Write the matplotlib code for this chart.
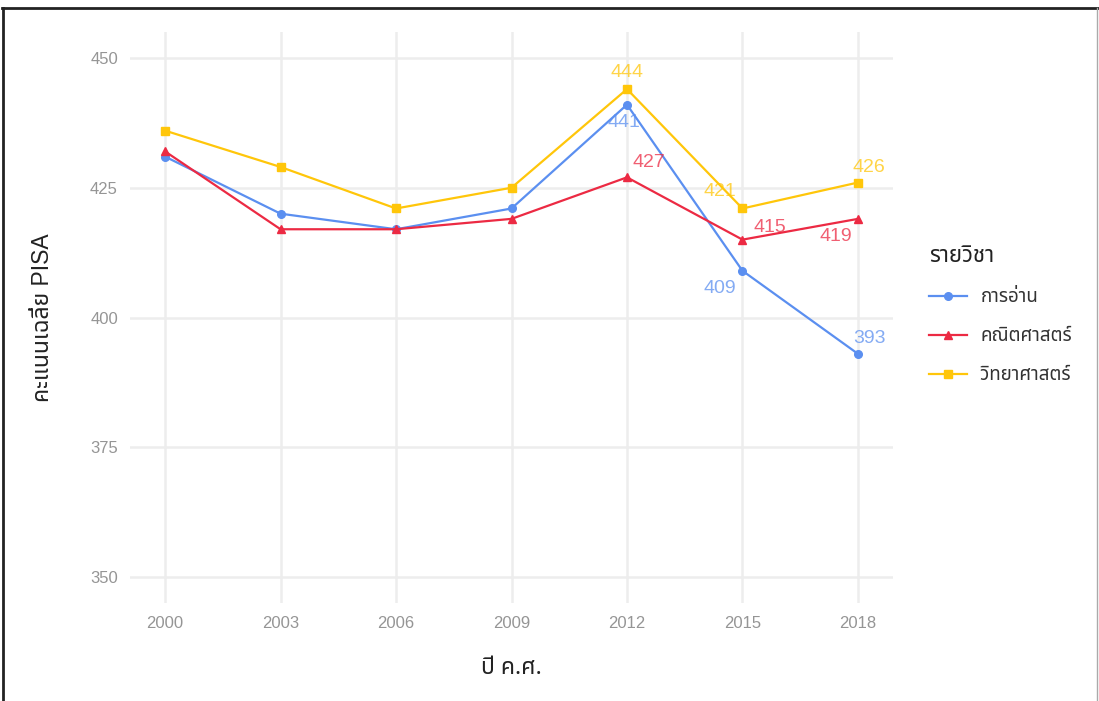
import matplotlib
matplotlib.use('Agg')  # no display
import matplotlib.pyplot as plt
from matplotlib.lines import Line2D

# ข้อมูลคะแนน PISA ของไทย
years = [2000, 2003, 2006, 2009, 2012, 2015, 2018]
reading = [431, 420, 417, 421, 441, 409, 393]
math = [432, 417, 417, 419, 427, 415, 419]
science = [436, 429, 421, 425, 444, 421, 426]
subjects = ['การอ่าน', 'คณิตศาสตร์', 'วิทยาศาสตร์']
label_years = [2012, 2015, 2018]
y_ticks = [350, 375, 400, 425, 450]

# สีและ marker ของแต่ละวิชา
colors = ['#5B8FF0', '#EC2A43', '#FFC60A']
markers = ['o', '^', 's']

# ระยะเลื่อนของป้ายตัวเลข (จุด) แบบ ggrepel
offsets = {
    (0, 2012): (-2, -13), (0, 2015): (-16, -13), (0, 2018): (8, 11),
    (1, 2012): (16, 11), (1, 2015): (20, 9), (1, 2018): (-16, -13),
    (2, 2012): (0, 12), (2, 2015): (-16, 12), (2, 2018): (8, 11),
}

thai = ['Noto Sans Thai', 'DejaVu Sans']
num_font = ['Liberation Sans', 'DejaVu Sans']

fig = plt.figure(figsize=(10.99, 7.01), dpi=100)
ax = fig.add_axes([130.4 / 1099, 1 - 603 / 701, (892.6 - 130.4) / 1099, (603 - 32) / 701])

series = [reading, math, science]
for i, vals in enumerate(series):
    ax.plot(years, vals, color=colors[i], marker=markers[i], markersize=5.5,
            linewidth=1.6, label=subjects[i], zorder=3)
    for yr, v in zip(years, vals):
        if yr in label_years:
            dx, dy = offsets[(i, yr)]
            ax.annotate(str(v), (yr, v), xytext=(dx, dy), textcoords='offset points',
                        ha='center', va='center', color=colors[i], alpha=0.75,
                        fontsize=14, family=num_font, zorder=4)

ax.set_xlim(2000 - 0.9, 2018 + 0.9)
ax.set_ylim(345, 455)
ax.set_xticks(years)
ax.set_yticks(y_ticks)
ax.set_xticklabels([str(y) for y in years], family=num_font, fontsize=12, color='#959595')
ax.set_yticklabels([str(y) for y in y_ticks], family=num_font, fontsize=12, color='#959595')
ax.tick_params(length=0, pad=9)
ax.grid(True, color='#EDEDED', linewidth=1.8)
ax.set_axisbelow(True)
for s in ax.spines.values():
    s.set_visible(False)

ax.set_xlabel('ปี ค.ศ.', family=thai, fontsize=16.5, color='#222222', labelpad=18)
ax.set_ylabel('คะแนนเฉลี่ย PISA', family=['Liberation Sans', 'Noto Sans Thai'],
              fontsize=16.5, color='#222222', labelpad=26)

leg = fig.legend(loc='upper left', bbox_to_anchor=(0.830, 0.673), frameon=False,
                 title='รายวิชา', prop={'family': thai, 'size': 13.5},
                 handlelength=2.0, labelspacing=1.12, handletextpad=0.75)
leg.get_title().set_fontfamily(thai)
leg.get_title().set_fontsize(16)
leg.get_title().set_color('#222222')
leg._legend_box.align = 'left'
for t in leg.get_texts():
    t.set_color('#333333')

# กรอบของภาพหน้าจอ
W, H = 1099, 701
fig.add_artist(Line2D([2 / W, 1], [1 - 8 / H, 1 - 8 / H], transform=fig.transFigure,
                      color='#222222', linewidth=2))
fig.add_artist(Line2D([3 / W, 3 / W], [0, 1 - 8 / H], transform=fig.transFigure,
                      color='#222222', linewidth=2))
fig.add_artist(Line2D([1097 / W, 1097 / W], [0, 1 - 8 / H], transform=fig.transFigure,
                      color='#AAAAAA', linewidth=1))

fig.savefig('out.png', dpi=100)
